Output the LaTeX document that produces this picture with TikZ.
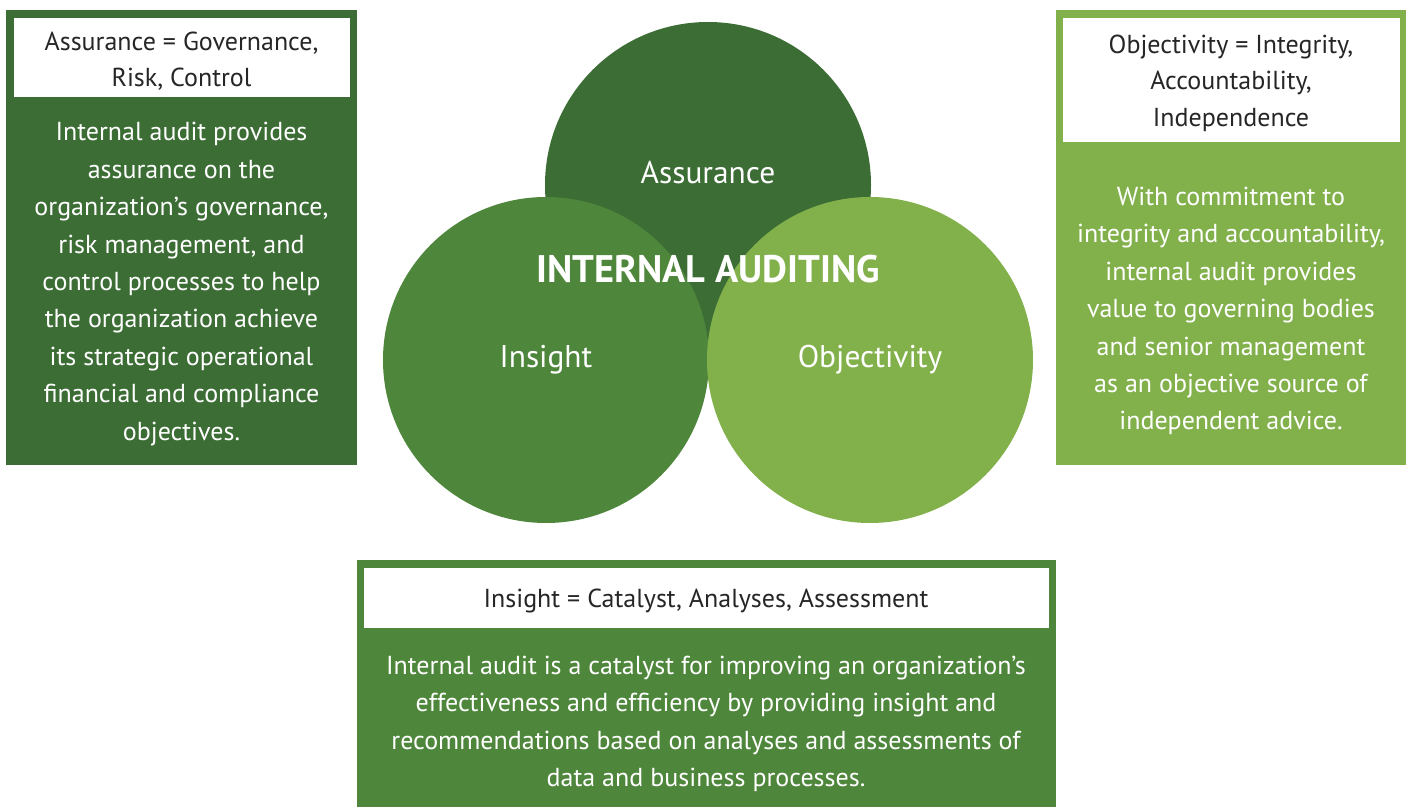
\documentclass[tikz,border=0pt]{standalone}
\usepackage{fontspec}
\setmainfont{PT Sans}
\definecolor{assurgreen}{HTML}{3C6D35}
\definecolor{insightgreen}{HTML}{4E863B}
\definecolor{objgreen}{HTML}{82B14C}

\begin{document}
\begin{tikzpicture}[x=0.5pt,y=-0.5pt,
  ring/.style={circle,minimum size=163pt,inner sep=0pt},
  ringtext/.style={text=white,font=\fontsize{15.7}{18}\selectfont},
  headtext/.style={align=center,text=black!85,font=\fontsize{13}{18.2}\selectfont},
  bodytext/.style={align=center,text=white,font=\fontsize{13}{18.7}\selectfont}]
\useasboundingbox (0,0) rectangle (1410,807);

% the three circles
\node [ring,fill=assurgreen] (assur) at (708,185) {};
\node [ring,fill=insightgreen] (insight) at (546,360) {};
\node [ring,fill=objgreen] (obj) at (870,360) {};
\node [ringtext] (assurlabel) at (708,173) {Assurance};
\node [ringtext] (insightlabel) at (546,360) {Insight};
\node [ringtext] (objlabel) at (870,360) {Objectivity};
\node [text=white,font=\fontsize{19.2}{22}\selectfont\bfseries] (title) at (708,269) {INTERNAL AUDITING};

% left box
\fill [assurgreen] (6,10) rectangle (357,465);
\fill [white] (14,18) rectangle (350,97);
\node [headtext] (assurhead) at (181.5,61) {Assurance = Governance,\\Risk, Control};
\node [bodytext] (assurbody) at (181.5,284) {Internal audit provides\\assurance on the\\organization’s governance,\\risk management, and\\control processes to help\\the organization achieve\\its strategic operational\\financial and compliance\\objectives.};

% right box
\fill [objgreen] (1056,10) rectangle (1406,465);
\fill [white] (1063,18) rectangle (1400,142);
\node [headtext] (objhead) at (1231,83) {Objectivity = Integrity,\\Accountability,\\Independence};
\node [bodytext] (objbody) at (1231,311) {With commitment to\\integrity and accountability,\\internal audit provides\\value to governing bodies\\and senior management\\as an objective source of\\independent advice.};

% bottom box
\fill [insightgreen] (357,560) rectangle (1056,807);
\fill [white] (364,568) rectangle (1049,628);
\node [headtext] (insighthead) at (706,601) {Insight = Catalyst, Analyses, Assessment};
\node [bodytext] (insightbody) at (706,724) {Internal audit is a catalyst for improving an organization’s\\effectiveness and efficiency by providing insight and\\recommendations based on analyses and assessments of\\data and business processes.};
\end{tikzpicture}
\end{document}
